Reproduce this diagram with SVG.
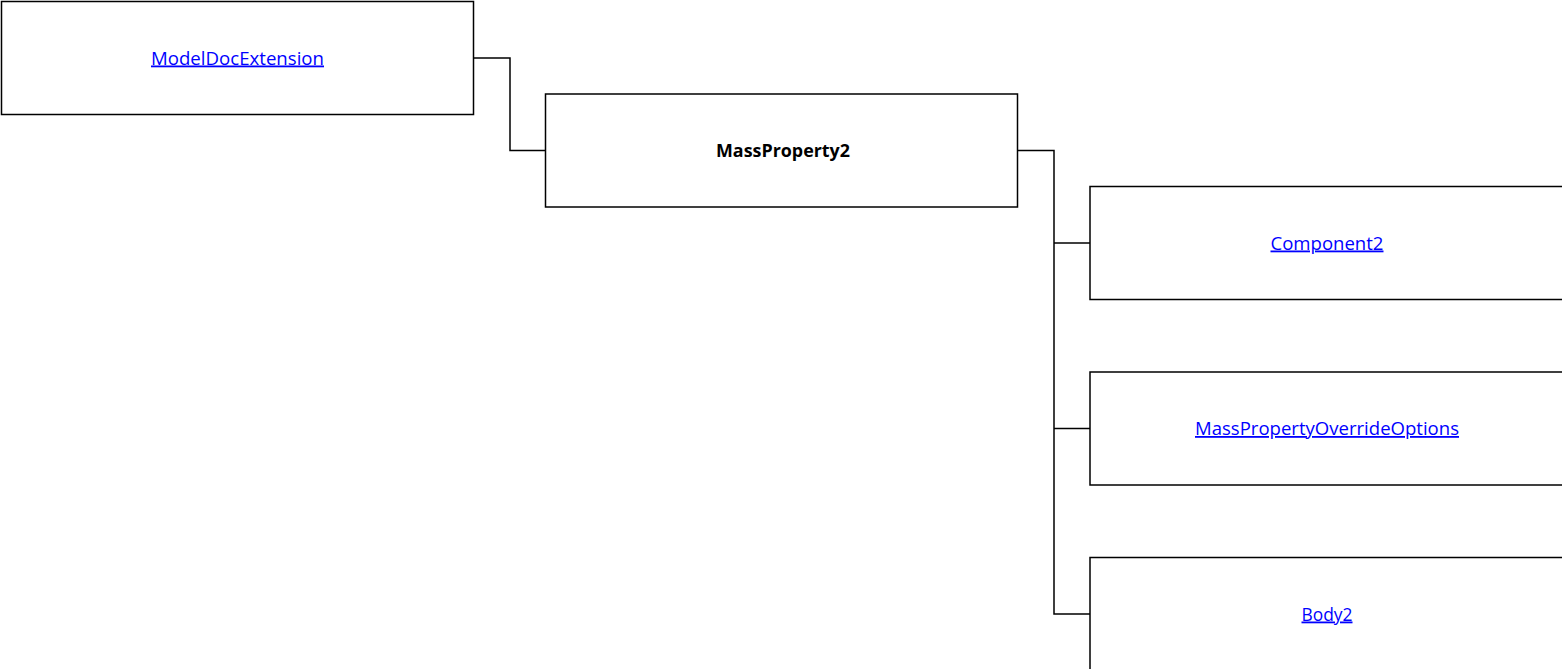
<svg xmlns="http://www.w3.org/2000/svg" width="1562" height="669" viewBox="0 0 1562 669">
<style>
.box{fill:#fff;stroke:#000;stroke-width:1.5}
.lnk{font-family:"Open Sans","Liberation Sans",sans-serif;font-size:18px;fill:#0000ff;text-decoration:underline;text-anchor:middle}
.bold{font-family:"Open Sans","Liberation Sans",sans-serif;font-size:17.5px;font-weight:bold;fill:#000;text-anchor:middle}
.con{fill:none;stroke:#000;stroke-width:1.5}
</style>
<rect width="1562" height="669" fill="#fff"/>
<g id="connectors">
<polyline class="con" points="473.5,58 510,58 510,150.5 545.5,150.5"/>
<polyline class="con" points="1017.5,150.5 1054,150.5 1054,614 1090,614"/>
<line class="con" x1="1054" y1="243" x2="1090" y2="243"/>
<line class="con" x1="1054" y1="428.5" x2="1090" y2="428.5"/>
</g>
<g id="node-modeldocextension">
<rect class="box" x="1.5" y="1.5" width="472" height="113"/>
<text class="lnk" x="237.5" y="64.5" textLength="173" lengthAdjust="spacingAndGlyphs">ModelDocExtension</text>
</g>
<g id="node-massproperty2">
<rect class="box" x="545.5" y="94" width="472" height="113"/>
<text class="bold" x="783" y="157" textLength="134" lengthAdjust="spacingAndGlyphs">MassProperty2</text>
</g>
<g id="node-component2">
<rect class="box" x="1090" y="186.5" width="473" height="113"/>
<text class="lnk" x="1327" y="249.5" textLength="113" lengthAdjust="spacingAndGlyphs">Component2</text>
</g>
<g id="node-masspropertyoverrideoptions">
<rect class="box" x="1090" y="372" width="473" height="113"/>
<text class="lnk" x="1327" y="435" textLength="264" lengthAdjust="spacingAndGlyphs">MassPropertyOverrideOptions</text>
</g>
<g id="node-body2">
<rect class="box" x="1090" y="557.5" width="473" height="113"/>
<text class="lnk" x="1327" y="620.5" textLength="51" lengthAdjust="spacingAndGlyphs">Body2</text>
</g>
</svg>
